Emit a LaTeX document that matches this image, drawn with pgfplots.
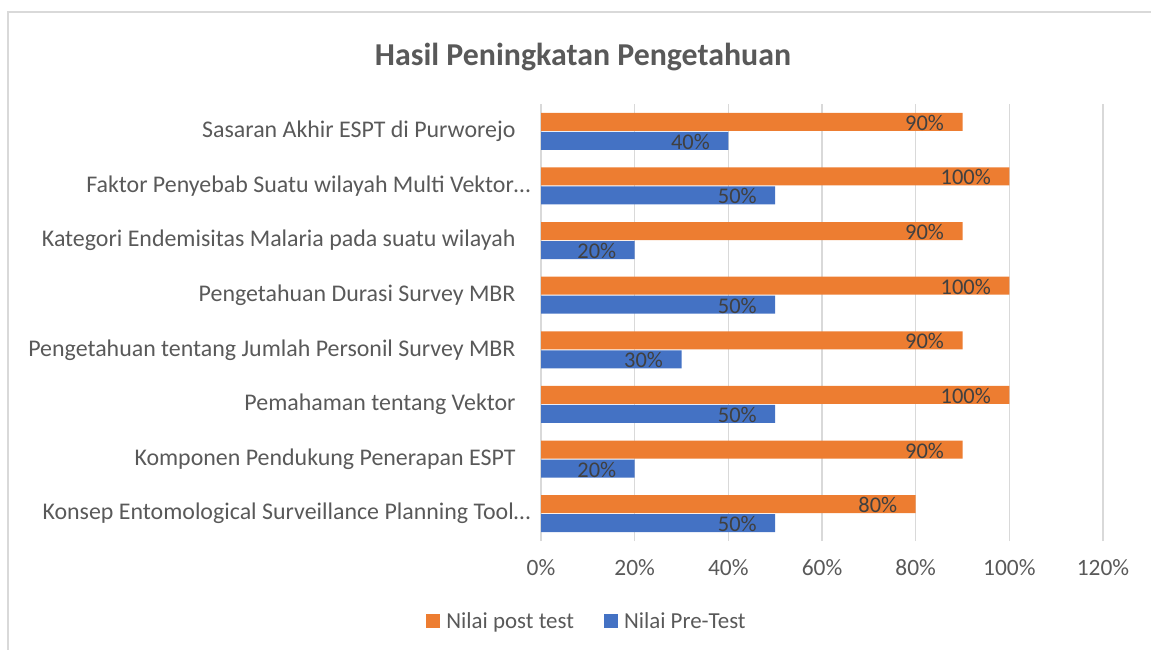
\documentclass[border=0pt]{standalone}
\usepackage{pgfplots}
\pgfplotsset{compat=1.18}
\usepackage{fontspec}
\setmainfont{Carlito}
\definecolor{orangeB}{HTML}{ED7D31}
\definecolor{blueB}{HTML}{4472C4}
\definecolor{gridc}{HTML}{D9D9D9}
\definecolor{txt}{HTML}{595959}
\definecolor{lbl}{HTML}{404040}
\newcommand{\tsp}{\rule{15bp}{0pt}}
\begin{document}
\begin{tikzpicture}
\path[use as bounding box] (0,0) rectangle (1151bp,-650bp);
\draw[gridc, line width=2bp] (8bp,-650bp) -- (8bp,-12bp) -- (1151bp,-12bp);
\begin{axis}[
  at={(541bp,-541bp)}, anchor=south west,
  scale only axis, width=562bp, height=437bp,
  xmin=0, xmax=120, ymin=-0.5, ymax=7.5,
  xbar, bar width=18bp,
  axis line style={draw=none},
  major tick length=0pt,
  xtick={0,20,...,120},
  xticklabel={\pgfmathprintnumber{\tick}\%},
  ytick={0,...,7},
  yticklabels={
    {Konsep Entomological Surveillance Planning Tool…},
    {Komponen Pendukung Penerapan ESPT\tsp},
    {Pemahaman tentang Vektor\tsp},
    {Pengetahuan tentang Jumlah Personil Survey MBR\tsp},
    {Pengetahuan Durasi Survey MBR\tsp},
    {Kategori Endemisitas Malaria pada suatu wilayah\tsp},
    {Faktor Penyebab Suatu wilayah Multi Vektor…},
    {Sasaran Akhir ESPT di Purworejo\tsp}},
  xmajorgrids, ymajorgrids=false,
  grid style={gridc, line width=1.3bp},
  /pgf/number format/assume math mode=true,
  tick label style={font=\fontsize{23.5}{28}\selectfont, text=txt},
  yticklabel style={anchor=east, xshift=-7bp, font=\fontsize{24}{28}\selectfont},
  xticklabel style={anchor=center, yshift=-27bp},
  point meta=x,
  nodes near coords={\pgfmathprintnumber{\pgfplotspointmeta}\%},
  nodes near coords style={anchor=east, xshift=-15bp, yshift=-1bp, font=\fontsize{22.5}{26}\selectfont, text=lbl},
  legend style={at={(0.0819,-0.183)}, anchor=center, draw=none, fill=none,
    legend columns=2, font=\fontsize{23}{27}\selectfont, text=txt,
    /tikz/every even column/.append style={column sep=28bp}},
  legend image code/.code={\fill[#1] (0bp,-7bp) rectangle (14bp,7bp);},
  legend cell align=left,
  title={\bfseries Hasil Peningkatan Pengetahuan},
  title style={at={(0.0747,1.094)}, anchor=center, font=\fontsize{32}{36}\selectfont, text=txt},
]
\addplot[fill=orangeB, draw=none, bar shift=9.5bp] coordinates {
  (80,0) (90,1) (100,2) (90,3) (100,4) (90,5) (100,6) (90,7)};
\addplot[fill=blueB, draw=none, bar shift=-9.5bp] coordinates {
  (50,0) (20,1) (50,2) (30,3) (50,4) (20,5) (50,6) (40,7)};
\legend{\hspace{4bp}Nilai post test, \hspace{4bp}Nilai Pre-Test}
\end{axis}
\end{tikzpicture}
\end{document}
